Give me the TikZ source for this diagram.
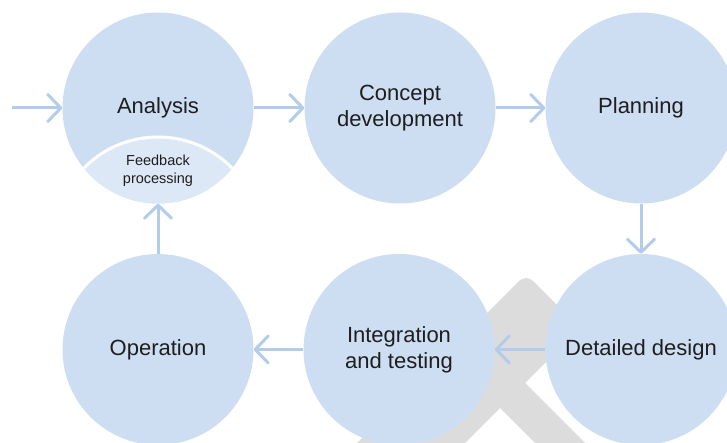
\documentclass[tikz,border=0pt]{standalone}
\usepackage{fontspec}
\setmainfont{Liberation Sans}
\usetikzlibrary{arrows.meta}
\definecolor{circ}{HTML}{CDDEF3}
\definecolor{seg}{HTML}{DDE8F7}
\definecolor{arr}{HTML}{B3CCEA}
\definecolor{wm}{HTML}{DCDCDC}
\definecolor{txt}{HTML}{1E1E1E}
\begin{document}
\begin{tikzpicture}[x=1pt,y=-1pt,
  stage/.style={circle, fill=circ, minimum size=191pt, inner sep=0pt, text=txt,
    font=\fontsize{22}{26}\selectfont, align=center},
  smalltext/.style={text=txt, font=\fontsize{14.5}{17.5}\selectfont, align=center, inner sep=0pt},
  flow/.style={draw=arr, line width=3pt, -{Straight Barb[length=13pt,width=27pt,round]}},
  watermark/.style={fill=wm}
  ]
\clip (0,0) rectangle (727,443);
% grey watermark behind the circles
\fill[watermark, rounded corners=10pt] (300,500) -- (526,274) -- (580,328) -- (408,500) -- cycle;
\fill[watermark] (436,344) -- (461,319) -- (642,500) -- (592,500) -- cycle;
% stages
\node[stage] (ana) at (158,108) {Analysis};
\node[stage] (con) at (400,108) {Concept\\development};
\node[stage] (pla) at (641,108) {Planning};
\node[stage] (det) at (641,349.5) {Detailed design};
\node[stage] (int) at (399,349.5) {Integration\\and testing};
\node[stage] (ope) at (158,349.5) {Operation};
% feedback segment of the analysis circle
\begin{scope}
  \clip (158,108) circle (95.5);
  \fill[seg] (158,241) circle (104);
  \draw[white, line width=3pt] (158,241) circle (104);
\end{scope}
\node[smalltext] (fb) at (158,171) {Feedback\\processing};
% connectors
\coordinate (start) at (12,108);
\draw[flow] (start) -- (ana);
\draw[flow] (ana) -- (con);
\draw[flow] (con) -- (pla);
\draw[flow] (pla) -- (det);
\draw[flow] (det) -- (int);
\draw[flow] (int) -- (ope);
\draw[flow] (ope) -- (ana);
\end{tikzpicture}
\end{document}
